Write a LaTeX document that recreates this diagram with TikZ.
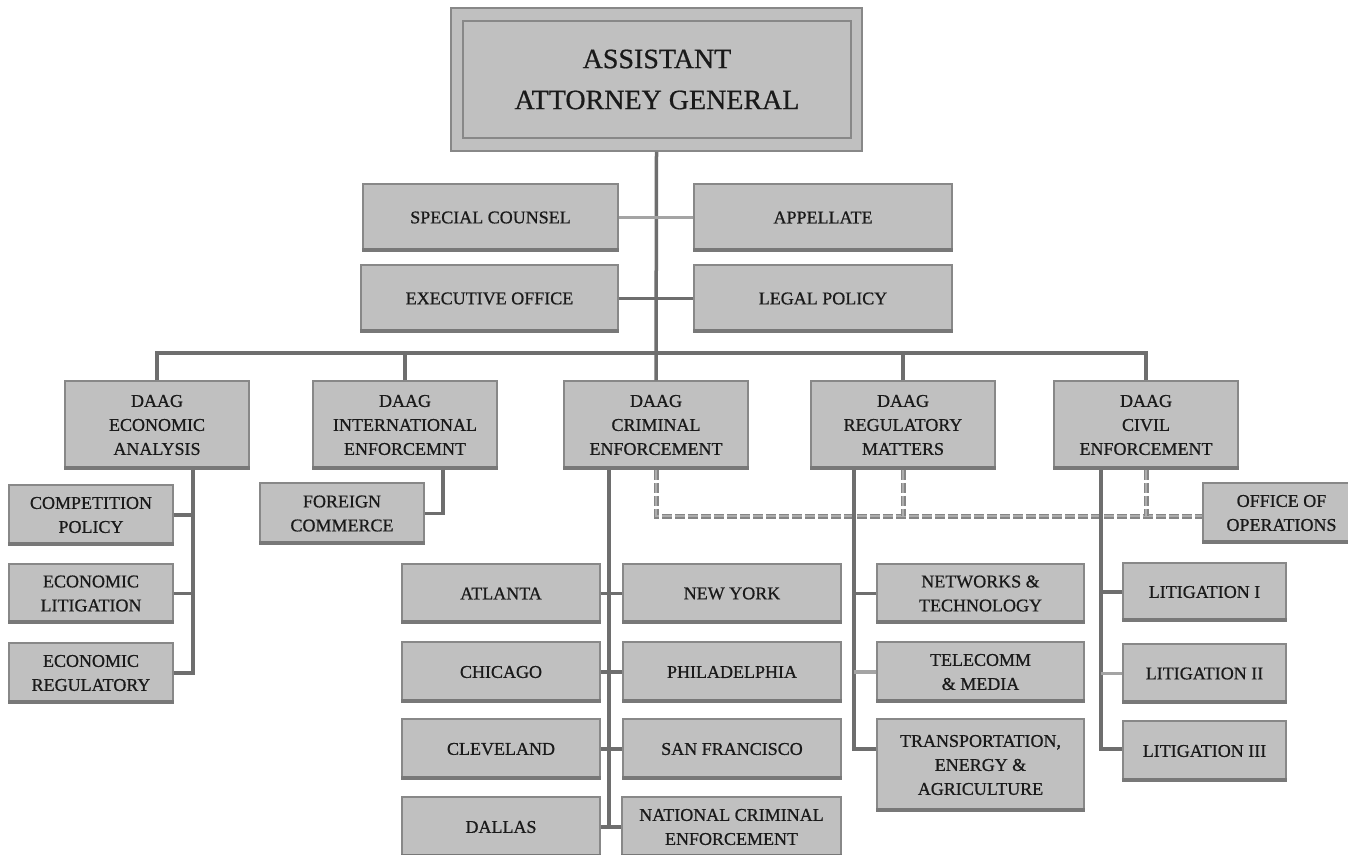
\documentclass[tikz,border=0pt]{standalone}
\usepackage{fontspec}
\setmainfont{Liberation Serif}[FakeBold=0.7]
\definecolor{boxfill}{HTML}{C0C0C0}
\definecolor{boxline}{HTML}{888888}
\definecolor{shadecol}{HTML}{787878}
\definecolor{linkcol}{HTML}{6E6E6E}
\definecolor{linkltcol}{HTML}{A4A4A4}
\definecolor{dashout}{HTML}{858585}
\definecolor{dashin}{HTML}{ADADAD}
\definecolor{txt}{HTML}{1A1A1A}
\tikzset{
  box/.style={rectangle, draw=boxline, line width=1.5pt, fill=boxfill, inner sep=0pt,
    align=center, text=txt, font=\fontsize{18}{24}\selectfont},
  titlebox/.style={box, font=\fontsize{28}{41}\selectfont},
  botshade/.style={draw=shadecol, line width=3.5pt},
  link/.style={draw=linkcol, line width=3.5pt},
  linklt/.style={draw=linkltcol, line width=3.5pt},
  dashlink/.style={draw=dashout, line width=1.7pt, double=dashin, double distance=1.6pt,
    dash pattern=on 10pt off 3pt}
}
\newcommand\obox[7][]{\node[box,#1,minimum width={(#4-#3)*1pt},minimum height={(#6-#5)*1pt}] (#2) at ({(#3+#4)/2},{(#5+#6)/2}) {#7};}
\begin{document}
\begin{tikzpicture}[x=1pt,y=-1pt]
\useasboundingbox[fill=white] (0,0) rectangle (1348,854);
% top
\obox{aag}{451}{862}{8}{151}{}
\obox[titlebox]{aagin}{463}{851}{21}{138}{ASSISTANT\\ATTORNEY GENERAL}
% staff
\obox{sc}{363}{618}{184}{251}{SPECIAL COUNSEL}
\obox{app}{694}{952}{184}{251}{APPELLATE}
\obox{exo}{361}{618}{265}{332}{EXECUTIVE OFFICE}
\obox{lp}{694}{952}{265}{332}{LEGAL POLICY}
% DAAGs
\obox{dea}{65}{249}{381}{469}{DAAG\\ECONOMIC\\ANALYSIS}
\obox{dia}{313}{497}{381}{469}{DAAG\\INTERNATIONAL\\ENFORCEMNT}
\obox{dce}{564}{748}{381}{469}{DAAG\\CRIMINAL\\ENFORCEMENT}
\obox{drm}{811}{995}{381}{469}{DAAG\\REGULATORY\\MATTERS}
\obox{dcv}{1054}{1238}{381}{469}{DAAG\\CIVIL\\ENFORCEMENT}
% economic
\obox{cp}{9}{173}{485}{545}{COMPETITION\\POLICY}
\obox{el}{9}{173}{564}{623}{ECONOMIC\\LITIGATION}
\obox{er}{9}{173}{643}{703}{ECONOMIC\\REGULATORY}
% international
\obox{fc}{260}{424}{483}{544}{FOREIGN\\COMMERCE}
% criminal
\obox{atl}{402}{600}{564}{623}{ATLANTA}
\obox{ny}{623}{841}{564}{623}{NEW YORK}
\obox{chi}{402}{600}{642}{702}{CHICAGO}
\obox{phi}{623}{841}{642}{702}{PHILADELPHIA}
\obox{cle}{402}{600}{719}{779}{CLEVELAND}
\obox{sf}{623}{841}{719}{779}{SAN FRANCISCO}
\obox{dal}{402}{600}{797}{857}{DALLAS}
\obox{nce}{622}{841}{797}{857}{NATIONAL CRIMINAL\\ENFORCEMENT}
% regulatory
\obox{nt}{877}{1084}{564}{623}{NETWORKS \&\\TECHNOLOGY}
\obox{tm}{877}{1084}{642}{702}{TELECOMM\\\& MEDIA}
\obox{tea}{877}{1084}{719}{811}{TRANSPORTATION,\\ENERGY \&\\AGRICULTURE}
% civil
\obox{lone}{1123}{1286}{563}{621}{LITIGATION I}
\obox{ltwo}{1123}{1286}{644}{703}{LITIGATION II}
\obox{lthree}{1123}{1286}{721}{781}{LITIGATION III}
% operations
\obox{oo}{1203}{1360}{483}{543}{OFFICE OF\\OPERATIONS}
% bottom shading
\foreach \n in {sc,app,exo,lp,dea,dia,dce,drm,dcv,cp,el,er,fc,atl,ny,chi,phi,cle,sf,dal,nce,nt,tm,tea,lone,ltwo,lthree,oo}
  \draw[botshade] ([yshift=1.75pt]\n.south west) -- ([yshift=1.75pt]\n.south east);
% dashed operations links
\coordinate (ooin) at ([yshift=-3pt]oo.west);
\draw[dashlink] (dce.south) |- (ooin);
\draw[dashlink] (drm.south) -- (drm.south |- ooin);
\draw[dashlink] (dcv.south) -- (dcv.south |- ooin);
% trunk and bus
\coordinate (busy) at (0,353);
\draw[link] (aag.south) -- (dce.north);
\draw[link] (dea.north) -- (dea.north |- busy) -- (dcv.north |- busy) -- (dcv.north);
\draw[link] (dia.north) -- (dia.north |- busy);
\draw[link] (drm.north) -- (drm.north |- busy);
\draw[linklt] (sc.east) -- (app.west);
\draw[link] (exo.east) -- (lp.west);
% economic
\coordinate (ev) at ([xshift=36pt]dea.south);
\draw[link] (ev) |- (er.east);
\draw[link] (cp.east) -- (cp.east -| ev);
\draw[link] (el.east) -- (el.east -| ev);
% international
\draw[link] ([xshift=38pt]dia.south) |- (fc.east);
% criminal
\coordinate (cv) at ([xshift=-47pt]dce.south);
\draw[link] (cv) -- (cv |- dal.east);
\draw[link] (atl.east) -- (ny.west);
\draw[link] (chi.east) -- (phi.west);
\draw[link] (cle.east) -- (sf.west);
\draw[link] (dal.east) -- (nce.west);
% regulatory
\coordinate (rv) at ([xshift=-49pt]drm.south);
\coordinate (teain) at ([yshift=16pt]tea.west);
\draw[link] (rv) |- (teain);
\draw[link] (nt.west) -- (nt.west -| rv);
\draw[linklt] (tm.west) -- (tm.west -| rv);
% civil
\coordinate (vv) at ([xshift=-45pt]dcv.south);
\coordinate (lthreein) at ([yshift=2pt]lthree.west);
\draw[link] (vv) |- (lthreein);
\draw[link] (lone.west) -- (lone.west -| vv);
\draw[linklt] (ltwo.west) -- (ltwo.west -| vv);
\end{tikzpicture}
\end{document}
